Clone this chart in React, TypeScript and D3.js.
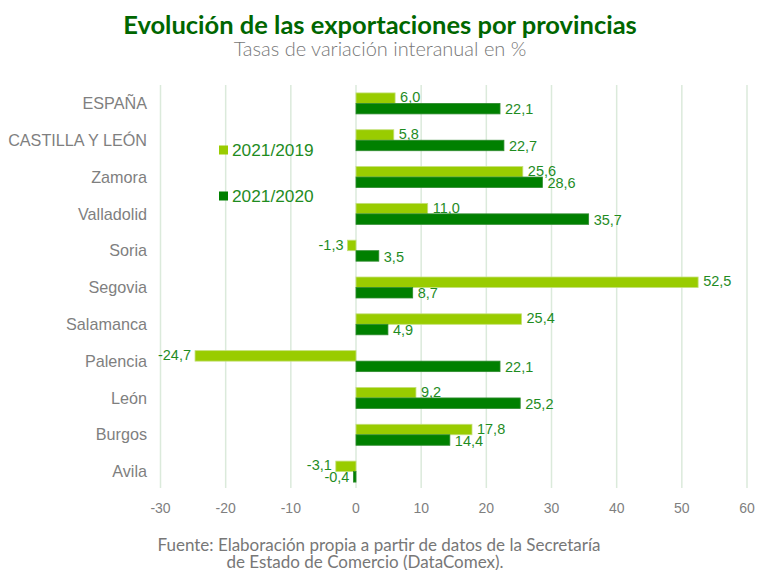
import { useEffect, useRef } from 'react'
import * as d3 from 'd3'

const provinces = [
  'ESPAÑA',
  'CASTILLA Y LEÓN',
  'Zamora',
  'Valladolid',
  'Soria',
  'Segovia',
  'Salamanca',
  'Palencia',
  'León',
  'Burgos',
  'Avila',
]
const vs2019 = [6.0, 5.8, 25.6, 11.0, -1.3, 52.5, 25.4, -24.7, 9.2, 17.8, -3.1]
const vs2020 = [22.1, 22.7, 28.6, 35.7, 3.5, 8.7, 4.9, 22.1, 25.2, 14.4, -0.4]
const seriesNames = ['2021/2019', '2021/2020']
const xTicks = [-30, -20, -10, 0, 10, 20, 30, 40, 50, 60]

const width = 758
const height = 570
const COLORS = ['#99cc00', '#008000']
const LABEL_GREEN = '#1f8c1f'
const GREY = '#7f7f7f'
const SANS = '"Liberation Sans", Arial, sans-serif'
const HUM = 'Lato, "Open Sans", sans-serif'

function App() {
  const ref = useRef<SVGSVGElement>(null)

  useEffect(() => {
    drawChart()
  }, [])

  const drawChart = () => {
    const svg = d3.select(ref.current)
    svg.selectAll('*').remove()

    const xScale = d3.scaleLinear().domain([-30, 60]).range([160.5, 747])
    const yScale = d3
      .scaleBand()
      .domain(provinces)
      .range([85, 490])
      .paddingInner(0.43)
      .paddingOuter(0.215)
    const ySub = d3
      .scaleBand()
      .domain(seriesNames)
      .range([0, yScale.bandwidth()])

    // title
    svg
      .append('text')
      .attr('x', 380)
      .attr('y', 34)
      .attr('text-anchor', 'middle')
      .attr('font-family', HUM)
      .attr('font-weight', 'bold')
      .attr('font-size', 25.5)
      .attr('fill', '#006600')
      .text('Evolución de las exportaciones por provincias')
    svg
      .append('text')
      .attr('x', 380)
      .attr('y', 56)
      .attr('text-anchor', 'middle')
      .attr('font-family', HUM)
      .attr('font-weight', 300)
      .attr('font-size', 20)
      .attr('fill', '#777777')
      .text('Tasas de variación interanual en %')

    // grid
    svg
      .append('g')
      .selectAll('line')
      .data(xTicks)
      .join('line')
      .attr('x1', (d) => xScale(d))
      .attr('x2', (d) => xScale(d))
      .attr('y1', 85)
      .attr('y2', 488)
      .attr('stroke', '#dbeadb')
      .attr('stroke-width', 1.5)

    // x tick labels
    svg
      .append('g')
      .selectAll('text')
      .data(xTicks)
      .join('text')
      .attr('x', (d) => xScale(d))
      .attr('y', 513)
      .attr('text-anchor', 'middle')
      .attr('font-family', SANS)
      .attr('font-size', 14)
      .attr('fill', GREY)
      .text((d) => d)

    // category labels
    svg
      .append('g')
      .selectAll('text')
      .data(provinces)
      .join('text')
      .attr('x', 147)
      .attr('y', (d) => yScale(d)! + yScale.bandwidth() / 2)
      .attr('dy', '0.35em')
      .attr('text-anchor', 'end')
      .attr('font-family', SANS)
      .attr('font-size', 16.2)
      .attr('fill', GREY)
      .text((d) => d)

    const fmt = (v: number) => v.toFixed(1).replace('.', ',')

    ;[vs2019, vs2020].forEach((values, s) => {
      const rows = provinces.map((p, i) => ({ p, v: values[i] }))
      const g = svg.append('g')
      g.selectAll('rect')
        .data(rows)
        .join('rect')
        .attr('x', (d) => xScale(Math.min(0, d.v)))
        .attr('width', (d) => Math.abs(xScale(d.v) - xScale(0)))
        .attr('y', (d) => yScale(d.p)! + ySub(seriesNames[s])!)
        .attr('height', ySub.bandwidth())
        .attr('fill', COLORS[s])
        .attr('stroke', s === 0 ? '#c4e07a' : '#2e8b2e')
        .attr('stroke-width', 0.8)
      g.selectAll('text')
        .data(rows)
        .join('text')
        .attr('x', (d) => (d.v >= 0 ? xScale(d.v) + 5 : xScale(d.v) - 4))
        .attr(
          'y',
          (d) => yScale(d.p)! + ySub(seriesNames[s])! + ySub.bandwidth() / 2 + (s === 0 ? -1 : 0.5)
        )
        .attr('dy', '0.35em')
        .attr('text-anchor', (d) => (d.v >= 0 ? 'start' : 'end'))
        .attr('font-family', SANS)
        .attr('font-size', 14.5)
        .attr('fill', LABEL_GREEN)
        .text((d) => fmt(d.v))
    })

    // legend
    const legend = svg
      .append('g')
      .selectAll('g')
      .data(seriesNames)
      .join('g')
      .attr('transform', (_, i) => `translate(219,${150 + i * 46})`)
    legend
      .append('rect')
      .attr('x', 0)
      .attr('y', -4.5)
      .attr('width', 9)
      .attr('height', 9)
      .attr('fill', (_, i) => COLORS[i])
    legend
      .append('text')
      .attr('x', 13)
      .attr('y', 0)
      .attr('dy', '0.35em')
      .attr('font-family', SANS)
      .attr('font-size', 17.3)
      .attr('fill', LABEL_GREEN)
      .text((d) => d)

    // source
    const src = svg
      .append('text')
      .attr('text-anchor', 'middle')
      .attr('font-family', HUM)
      .attr('font-size', 17)
      .attr('fill', '#777777')
    src.append('tspan').attr('x', 379).attr('y', 551).text('Fuente: Elaboración propia a partir de datos de la Secretaría')
    src.append('tspan').attr('x', 365).attr('y', 568).text('de Estado de Comercio (DataComex).')
  }

  return (
    <svg
      ref={ref}
      width={width}
      height={height}
      style={{ position: 'absolute', left: 0, top: 0, background: '#ffffff' }}
    />
  )
}

export default App
